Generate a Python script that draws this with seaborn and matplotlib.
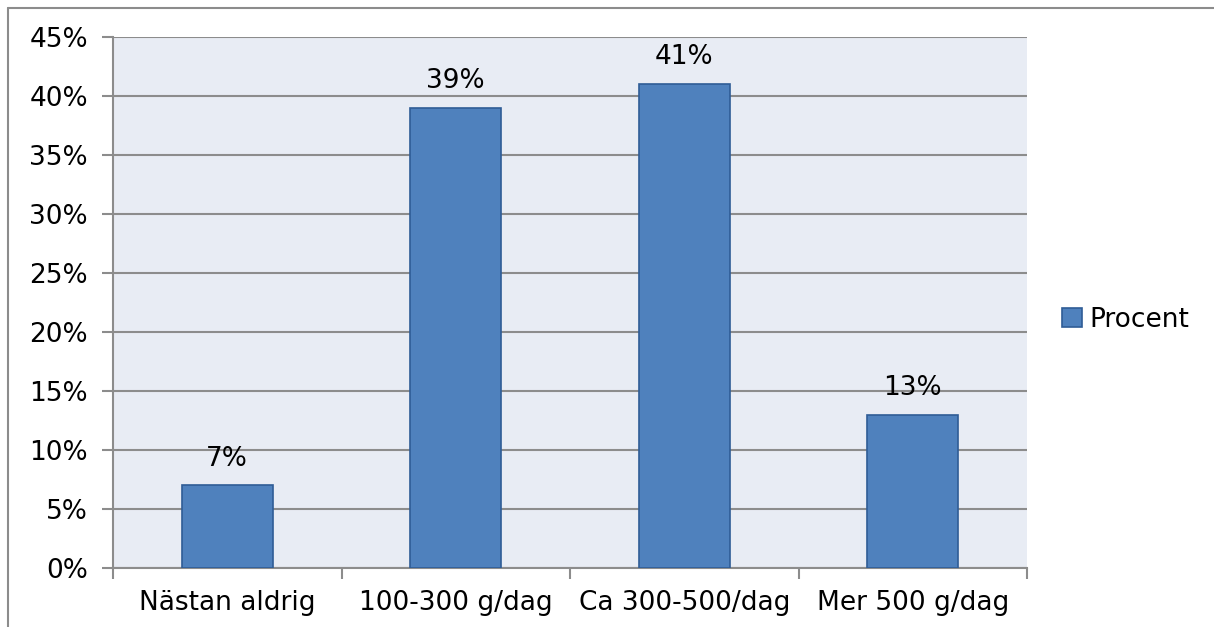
import numpy as np
import pandas as pd
import matplotlib
matplotlib.use("Agg")
import matplotlib.pyplot as plt
import seaborn as sns
from matplotlib.lines import Line2D
from matplotlib.ticker import MultipleLocator, FuncFormatter

categories = ["Nästan aldrig", "100-300 g/dag", "Ca 300-500/dag", "Mer 500 g/dag"]
procent = [7, 39, 41, 13]
series_name = "Procent"

BAR_COLOR = "#4F81BD"
EDGE_COLOR = "#2F5C96"
GRID_COLOR = "#8C8C8C"
FONT_SIZE = 19

sns.set_theme(style="white")
plt.rcParams["font.family"] = ["DejaVu Sans"]
plt.rcParams["text.color"] = "black"
plt.rcParams["xtick.color"] = "black"
plt.rcParams["ytick.color"] = "black"

df = pd.DataFrame({"kategori": categories, "procent": procent})

fig = plt.figure(figsize=(12.14, 6.27), dpi=100)
ax = fig.add_axes([113 / 1214, 59 / 627, 914 / 1214, 531 / 627])
ax.set_facecolor("#E8ECF4")

sns.barplot(
    data=df,
    x="kategori",
    y="procent",
    color=BAR_COLOR,
    saturation=1,
    width=0.4,
    edgecolor=EDGE_COLOR,
    linewidth=1.2,
    label=series_name,
    ax=ax,
    zorder=3
)

ax.set_xlim(-0.5, len(categories) - 0.5)
ax.set_ylim(0, 45)
ax.yaxis.set_major_locator(MultipleLocator(5))
ax.yaxis.set_major_formatter(FuncFormatter(lambda v, _: f"{v:.0f}%"))
ax.grid(axis="y", color=GRID_COLOR, linewidth=1.5, zorder=0)
ax.set_axisbelow(True)

ax.set_xlabel("")
ax.set_ylabel("")

# category ticks sit at the boundaries between groups
ax.set_xticks(np.arange(-0.5, len(categories), 1.0), minor=False)
ax.set_xticklabels([])
ax.set_xticks(np.arange(len(categories)), minor=True)
ax.set_xticklabels(categories, minor=True, fontsize=FONT_SIZE, color="black")
ax.tick_params(axis="x", which="major", direction="out", length=8, width=1.5,
               color=GRID_COLOR, bottom=True)
ax.tick_params(axis="x", which="minor", length=0, pad=16)
ax.tick_params(axis="y", direction="out", length=8, width=1.5, color=GRID_COLOR,
               labelsize=FONT_SIZE, labelcolor="black", left=True, pad=10)

for side in ["top", "right"]:
    ax.spines[side].set_visible(False)
for side in ["left", "bottom"]:
    ax.spines[side].set_color(GRID_COLOR)
    ax.spines[side].set_linewidth(1.5)

for container in ax.containers:
    ax.bar_label(container, labels=[f"{v}%" for v in procent], padding=10,
                 fontsize=FONT_SIZE, color="black")

ax.legend(
    loc="center left",
    bbox_to_anchor=(1.012, 0.467),
    frameon=False,
    fontsize=FONT_SIZE,
    handlelength=0.75,
    handleheight=0.75,
    handletextpad=0.3,
    labelcolor="black"
)

# outer chart frame (only left and top visible in the crop)
fig.add_artist(Line2D([8 / 1214, 8 / 1214], [0, 1 - 8 / 627], color=GRID_COLOR,
                      linewidth=1.5, transform=fig.transFigure))
fig.add_artist(Line2D([8 / 1214, 1], [1 - 8 / 627, 1 - 8 / 627], color=GRID_COLOR,
                      linewidth=1.5, transform=fig.transFigure))

fig.savefig("out.png", dpi=100, facecolor="white")
